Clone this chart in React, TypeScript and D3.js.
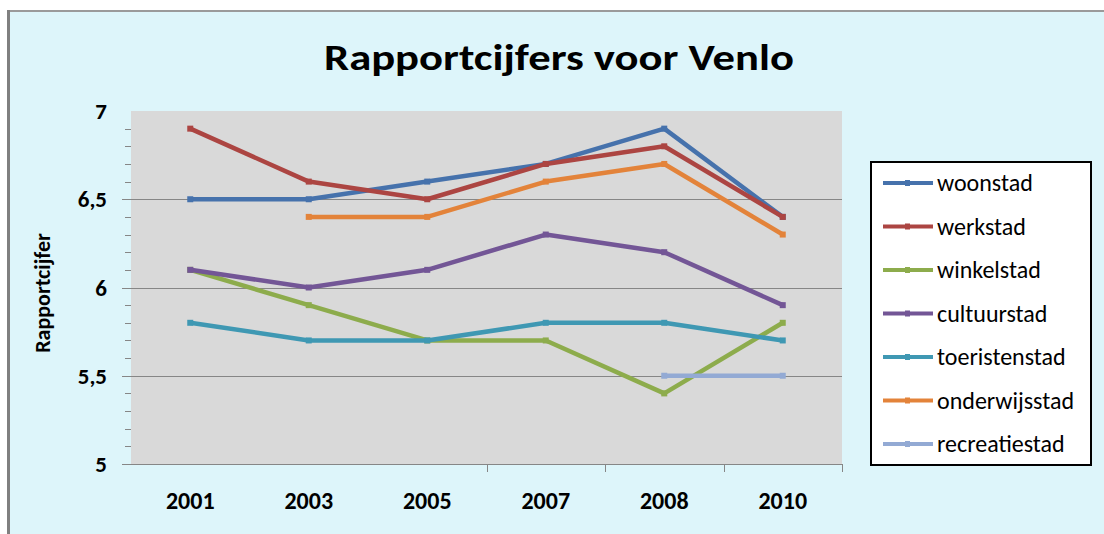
import React from 'react'
import * as d3 from 'd3'

// jaren op de x-as
const years = ['2001', '2003', '2005', '2007', '2008', '2010']

// rapportcijfers per reeks (null = geen meting)
const woonstad = [6.5, 6.5, 6.6, 6.7, 6.9, 6.4]
const werkstad = [6.9, 6.6, 6.5, 6.7, 6.8, 6.4]
const winkelstad = [6.1, 5.9, 5.7, 5.7, 5.4, 5.8]
const cultuurstad = [6.1, 6.0, 6.1, 6.3, 6.2, 5.9]
const toeristenstad = [5.8, 5.7, 5.7, 5.8, 5.8, 5.7]
const onderwijsstad = [null, 6.4, 6.4, 6.6, 6.7, 6.3]
const recreatiestad = [null, null, null, null, 5.5, 5.5]

const seriesNames = ['woonstad', 'werkstad', 'winkelstad', 'cultuurstad', 'toeristenstad', 'onderwijsstad', 'recreatiestad']
const seriesValues = [woonstad, werkstad, winkelstad, cultuurstad, toeristenstad, onderwijsstad, recreatiestad]
const colors = ['#4672AC', '#AC4542', '#8DAC4C', '#735696', '#3F98B3', '#E3833A', '#93AAD4']

const yTicks = [5, 5.5, 6, 6.5, 7]
const yTickLabels = ['5', '5,5', '6', '6,5', '7']

const font = 'Carlito, Calibri, Lato, sans-serif'

const App = () => {
  const W = 1104
  const H = 534
  const plot = { left: 131, right: 842, top: 111, bottom: 464 }

  const x = d3.scaleBand().domain(years).range([plot.left, plot.right]).padding(0)
  const y = d3.scaleLinear().domain([5, 7]).range([plot.bottom, plot.top])
  const cx = (yr: string) => (x(yr) as number) + x.bandwidth() / 2

  const line = d3
    .line<number | null>()
    .defined((d) => d != null)
    .x((_, i) => cx(years[i]))
    .y((d) => y(d as number))

  // kleine streepjes op de y-as (elke 0,1)
  const minor = d3.range(50, 70).map((v) => v / 10).filter((v) => Math.abs(v * 2 - Math.round(v * 2)) > 0.01)

  const legend = { x: 871, y: 162, w: 220, h: 303, row: 43.5 }

  return (
    <svg width={W} height={H} style={{ position: 'absolute', left: 0, top: 0, background: '#fff' }}>
      {/* achtergrond grafiek */}
      <rect x={9} y={12} width={W} height={H} fill="#DDF5FA" />
      <line x1={7} x2={W} y1={11} y2={11} stroke="#9a9a9a" strokeWidth={2} />
      <line x1={8.5} x2={8.5} y1={10} y2={H} stroke="#808080" strokeWidth={3} />

      <text
        x={559}
        y={70}
        textAnchor="middle"
        fontFamily={font}
        fontWeight="bold"
        fontSize={37}
        textLength={470}
        lengthAdjust="spacingAndGlyphs"
        fill="#000"
      >
        Rapportcijfers voor Venlo
      </text>

      <rect x={plot.left} y={plot.top} width={plot.right - plot.left} height={plot.bottom - plot.top} fill="#D9D9D9" />

      {/* rasterlijnen en y-as */}
      {yTicks.slice(0, -1).map((t) => (
        <line key={t} x1={122} x2={plot.right} y1={Math.round(y(t)) + 0.5} y2={Math.round(y(t)) + 0.5} stroke="#868686" strokeWidth={1} />
      ))}
      {minor.map((t) => (
        <line key={t} x1={125} x2={plot.left} y1={Math.round(y(t)) + 0.5} y2={Math.round(y(t)) + 0.5} stroke="#868686" strokeWidth={1} />
      ))}
      {yTicks.map((t, i) => (
        <text key={t} x={107} y={y(t)} dy="0.35em" textAnchor="end" fontFamily={font} fontWeight="bold" fontSize={23} fill="#000">
          {yTickLabels[i]}
        </text>
      ))}

      {/* x-as */}
      {years.slice(2).map((yr) => {
        const bx = Math.round((x(yr) as number) + x.bandwidth()) + 0.5
        return <line key={yr} x1={bx} x2={bx} y1={plot.bottom} y2={plot.bottom + 8} stroke="#868686" strokeWidth={1} />
      })}
      {years.map((yr) => (
        <text key={yr} x={cx(yr)} y={509} textAnchor="middle" fontFamily={font} fontWeight="bold" fontSize={24} fill="#000">
          {yr}
        </text>
      ))}

      <text
        transform={`translate(50, 293) rotate(-90)`}
        textAnchor="middle"
        fontFamily={font}
        fontWeight="bold"
        fontSize={22}
        fill="#000"
      >
        Rapportcijfer
      </text>

      {/* lijnen */}
      {seriesValues.map((vals, s) => (
        <g key={seriesNames[s]}>
          <path d={line(vals) || ''} fill="none" stroke={colors[s]} strokeWidth={4.5} strokeLinejoin="round" />
          {vals.map((v, i) =>
            v == null ? null : (
              <rect key={i} x={cx(years[i]) - 3} y={y(v) - 3} width={6} height={6} fill={colors[s]} />
            )
          )}
        </g>
      ))}

      {/* legenda */}
      <rect x={legend.x} y={legend.y} width={legend.w} height={legend.h} fill="#fff" stroke="#000" strokeWidth={2} />
      {seriesNames.map((name, s) => {
        const ly = legend.y + 21 + s * legend.row
        return (
          <g key={name}>
            <line x1={883} x2={933} y1={ly} y2={ly} stroke={colors[s]} strokeWidth={4} />
            <rect x={905} y={ly - 3} width={5} height={6} fill={colors[s]} />
            <text x={937} y={ly} dy="0.35em" fontFamily={font} fontSize={24} fill="#000">
              {name}
            </text>
          </g>
        )
      })}
    </svg>
  )
}

export default App
